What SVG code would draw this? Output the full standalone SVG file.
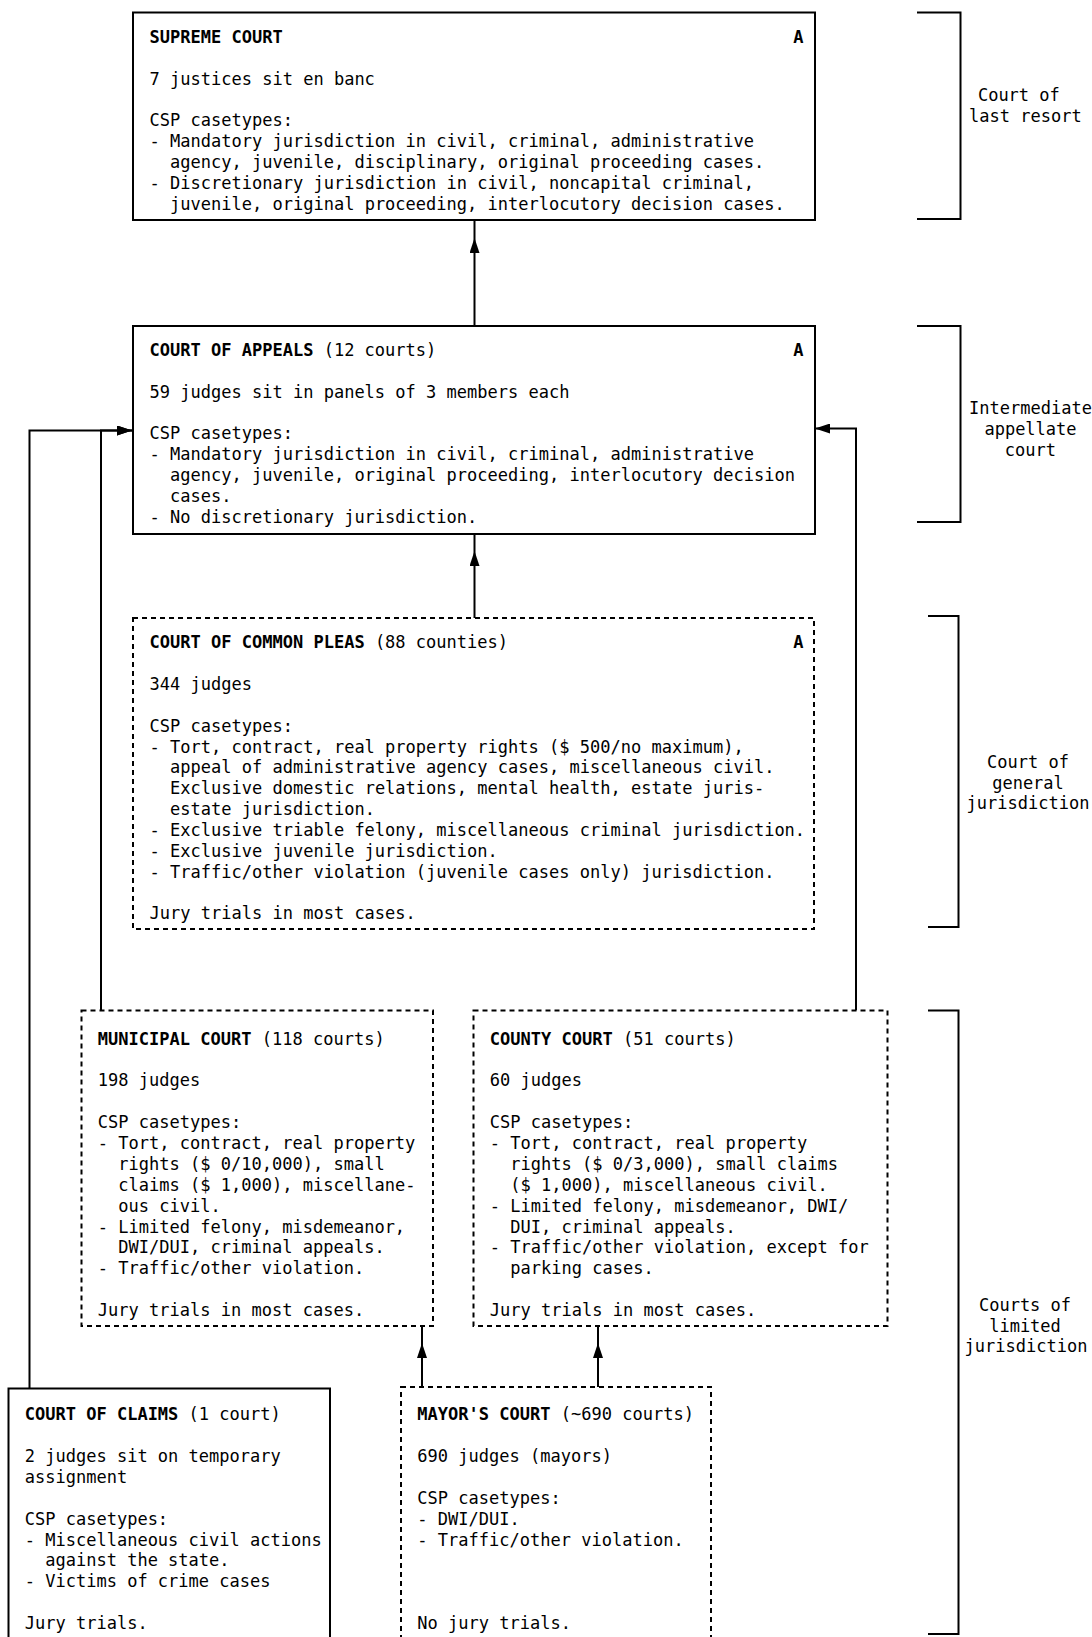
<svg xmlns="http://www.w3.org/2000/svg" width="1092" height="1637" viewBox="0 0 1092 1637">
<style>
.t{font-family:"DejaVu Sans Mono","Liberation Mono",monospace;font-size:17.8px;fill:#000}
.b{font-weight:bold}
.lbl{font-family:"DejaVu Sans Mono","Liberation Mono",monospace;font-size:17px;fill:#000;text-anchor:middle}
.box{fill:#fff;stroke:#000;stroke-width:2}
.dbox{fill:#fff;stroke:#000;stroke-width:2;stroke-dasharray:5 4}
.conn{fill:none;stroke:#000;stroke-width:2}
.br{fill:none;stroke:#000;stroke-width:2}
</style>
<defs>
<marker id="ah" viewBox="0 0 15 10" refX="15" refY="5" markerWidth="15" markerHeight="10" markerUnits="userSpaceOnUse" orient="auto">
<path d="M0,0 L15,5 L0,10 z" fill="#000"/>
</marker>
</defs>
<rect width="1092" height="1637" fill="#fff"/>

<g id="connectors">
<path class="conn" d="M474.5,326 V238 V220" marker-mid="url(#ah)"/>
<path class="conn" d="M474.5,618 V551 V534" marker-mid="url(#ah)"/>
<path class="conn" d="M29.5,1388.5 V430.5 H132" marker-end="url(#ah)"/>
<path class="conn" d="M101,1010.5 V430.5 H132" marker-end="url(#ah)"/>
<path class="conn" d="M856,1010.5 V428.5 H815" marker-end="url(#ah)"/>
<path class="conn" d="M422,1387 V1343 V1326" marker-mid="url(#ah)"/>
<path class="conn" d="M598,1387 V1343 V1326" marker-mid="url(#ah)"/>
</g>

<g id="supreme">
<rect class="box" x="133" y="12.5" width="682" height="207.5"/>
<g class="t" transform="translate(149.5 0) scale(0.9565 1)">
<text x="0" y="43"><tspan class="b">SUPREME COURT</tspan></text>
<text class="b" x="673" y="43">A</text>
<text x="0" y="84.7">7 justices sit en banc</text>
<text x="0" y="126.5">CSP casetypes:</text>
<text x="0" y="147.4">- Mandatory jurisdiction in civil, criminal, administrative</text>
<text x="21.43" y="168.2">agency, juvenile, disciplinary, original proceeding cases.</text>
<text x="0" y="189.1">- Discretionary jurisdiction in civil, noncapital criminal,</text>
<text x="21.43" y="210">juvenile, original proceeding, interlocutory decision cases.</text>
</g>
</g>

<g id="appeals">
<rect class="box" x="133" y="326" width="682" height="208"/>
<g class="t" transform="translate(149.5 0) scale(0.9565 1)">
<text x="0" y="356.1"><tspan class="b">COURT OF APPEALS</tspan> (12 courts)</text>
<text class="b" x="673" y="356.1">A</text>
<text x="0" y="397.8">59 judges sit in panels of 3 members each</text>
<text x="0" y="439.5">CSP casetypes:</text>
<text x="0" y="460.4">- Mandatory jurisdiction in civil, criminal, administrative</text>
<text x="21.43" y="481.3">agency, juvenile, original proceeding, interlocutory decision</text>
<text x="21.43" y="502.1">cases.</text>
<text x="0" y="523">- No discretionary jurisdiction.</text>
</g>
</g>

<g id="common-pleas">
<rect class="dbox" x="133" y="618" width="681" height="311"/>
<g class="t" transform="translate(149.5 0) scale(0.9565 1)">
<text x="0" y="648.2"><tspan class="b">COURT OF COMMON PLEAS</tspan> (88 counties)</text>
<text class="b" x="673" y="648.2">A</text>
<text x="0" y="690">344 judges</text>
<text x="0" y="731.7">CSP casetypes:</text>
<text x="0" y="752.6">- Tort, contract, real property rights ($ 500/no maximum),</text>
<text x="21.43" y="773.5">appeal of administrative agency cases, miscellaneous civil.</text>
<text x="21.43" y="794.3">Exclusive domestic relations, mental health, estate juris-</text>
<text x="21.43" y="815.2">estate jurisdiction.</text>
<text x="0" y="836.1">- Exclusive triable felony, miscellaneous criminal jurisdiction.</text>
<text x="0" y="856.9">- Exclusive juvenile jurisdiction.</text>
<text x="0" y="877.8">- Traffic/other violation (juvenile cases only) jurisdiction.</text>
<text x="0" y="919.5">Jury trials in most cases.</text>
</g>
</g>

<g id="municipal">
<rect class="dbox" x="81.5" y="1010.5" width="351.5" height="315.5"/>
<g class="t" transform="translate(97.8 0) scale(0.9565 1)">
<text x="0" y="1044.8"><tspan class="b">MUNICIPAL COURT</tspan> (118 courts)</text>
<text x="0" y="1086.5">198 judges</text>
<text x="0" y="1128.2">CSP casetypes:</text>
<text x="0" y="1149.1">- Tort, contract, real property</text>
<text x="21.43" y="1170">rights ($ 0/10,000), small</text>
<text x="21.43" y="1190.9">claims ($ 1,000), miscellane-</text>
<text x="21.43" y="1211.7">ous civil.</text>
<text x="0" y="1232.6">- Limited felony, misdemeanor,</text>
<text x="21.43" y="1253.5">DWI/DUI, criminal appeals.</text>
<text x="0" y="1274.3">- Traffic/other violation.</text>
<text x="0" y="1316.1">Jury trials in most cases.</text>
</g>
</g>

<g id="county">
<rect class="dbox" x="473.5" y="1010.5" width="414" height="315.5"/>
<g class="t" transform="translate(489.8 0) scale(0.9565 1)">
<text x="0" y="1044.8"><tspan class="b">COUNTY COURT</tspan> (51 courts)</text>
<text x="0" y="1086.5">60 judges</text>
<text x="0" y="1128.2">CSP casetypes:</text>
<text x="0" y="1149.1">- Tort, contract, real property</text>
<text x="21.43" y="1170">rights ($ 0/3,000), small claims</text>
<text x="21.43" y="1190.9">($ 1,000), miscellaneous civil.</text>
<text x="0" y="1211.7">- Limited felony, misdemeanor, DWI/</text>
<text x="21.43" y="1232.6">DUI, criminal appeals.</text>
<text x="0" y="1253.5">- Traffic/other violation, except for</text>
<text x="21.43" y="1274.3">parking cases.</text>
<text x="0" y="1316.1">Jury trials in most cases.</text>
</g>
</g>

<g id="claims">
<rect class="box" x="8.5" y="1388.5" width="321.5" height="260"/>
<g class="t" transform="translate(24.7 0) scale(0.9565 1)">
<text x="0" y="1420.4"><tspan class="b">COURT OF CLAIMS</tspan> (1 court)</text>
<text x="0" y="1462.2">2 judges sit on temporary</text>
<text x="0" y="1483">assignment</text>
<text x="0" y="1524.8">CSP casetypes:</text>
<text x="0" y="1545.6">- Miscellaneous civil actions</text>
<text x="21.43" y="1566.5">against the state.</text>
<text x="0" y="1587.4">- Victims of crime cases</text>
<text x="0" y="1629.1">Jury trials.</text>
</g>
</g>

<g id="mayors">
<rect class="dbox" x="401" y="1387" width="310" height="262"/>
<g class="t" transform="translate(417.3 0) scale(0.9565 1)">
<text x="0" y="1420.4"><tspan class="b">MAYOR'S COURT</tspan> (~690 courts)</text>
<text x="0" y="1462.2">690 judges (mayors)</text>
<text x="0" y="1503.9">CSP casetypes:</text>
<text x="0" y="1524.8">- DWI/DUI.</text>
<text x="0" y="1545.6">- Traffic/other violation.</text>
<text x="0" y="1629.1">No jury trials.</text>
</g>
</g>

<g id="levels">
<path class="br" d="M917,12.5 H960.5 V219 H917"/>
<path class="br" d="M917,326 H960.5 V522 H917"/>
<path class="br" d="M928,616 H958.5 V927 H928"/>
<path class="br" d="M928,1010.5 H958.5 V1634 H928"/>
<g class="t" transform="translate(969 0) scale(0.9565 1)">
<text x="9.3" y="101">Court of</text>
<text x="0" y="122">last resort</text>
<text x="0" y="414">Intermediate</text>
<text x="16.1" y="435">appellate</text>
<text x="37.3" y="456">court</text>
</g>
<text class="lbl" x="1028" y="768">Court of</text>
<text class="lbl" x="1028" y="788.5">general</text>
<text class="lbl" x="1028" y="809">jurisdiction</text>
<text class="lbl" x="1025" y="1311">Courts of</text>
<text class="lbl" x="1025" y="1331.5">limited</text>
<text class="lbl" x="1026" y="1352">jurisdiction</text>
</g>
</svg>
